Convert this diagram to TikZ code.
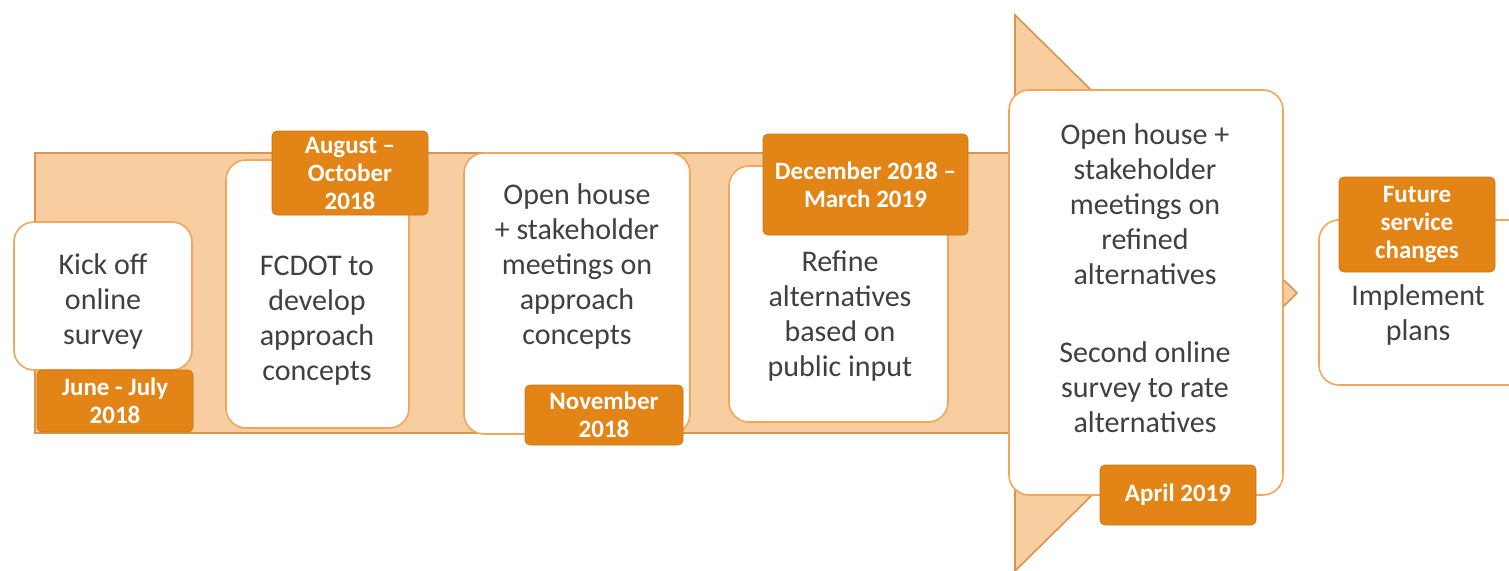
\documentclass[tikz,border=0pt]{standalone}
\usepackage{fontspec}
\setmainfont{Carlito}
\begin{document}
\begin{tikzpicture}[x=0.5pt,y=-0.5pt,
  arrowbody/.style={fill=bodyfill,draw=bodyline,line width=0.8pt,line join=miter},
  wbox/.style={draw=boxline,fill=white,line width=0.8pt,rounded corners=10pt,inner sep=0pt},
  dbox/.style={fill=datefill,draw=datefill!90!black,line width=0.4pt,rounded corners=2.5pt,inner sep=0pt,
     text=white,font=\fontsize{12.5}{14}\selectfont\bfseries,align=center},
  txt/.style={text=txtcol,font=\fontsize{15}{17.5}\selectfont,align=center,inner sep=0pt}]
\definecolor{bodyfill}{RGB}{248,206,160}
\definecolor{bodyline}{RGB}{214,150,80}
\definecolor{boxline}{RGB}{242,166,90}
\definecolor{datefill}{RGB}{227,132,23}
\definecolor{txtcol}{RGB}{64,64,64}
\useasboundingbox (0,0) rectangle (1509,570);
% big arrow
\draw[arrowbody] (35,153) -- (1015,153) -- (1015,15) -- (1297,293) -- (1015,571) -- (1015,433) -- (35,433) -- cycle;
% white boxes
\node[wbox,minimum width=89pt,minimum height=74pt] (b1) at (103,296) {};
\node[wbox,minimum width=91.5pt,minimum height=134pt] (b2) at (317.5,294) {};
\node[wbox,minimum width=113pt,minimum height=140.5pt] (b3) at (577,293.5) {};
\node[wbox,minimum width=109.5pt,minimum height=128pt] (b4) at (838.5,294) {};
\node[wbox,minimum width=137pt,minimum height=202.5pt] (b5) at (1146,292.5) {};
\node[wbox,minimum width=105.5pt,minimum height=82.5pt] (b6) at (1424.5,302.5) {};
% texts
\node[txt] (t1) at (103,301) {Kick off\\online\\survey};
\node[txt] (t2) at (317,321) {FCDOT to\\develop\\approach\\concepts};
\node[txt] (t3) at (577,266) {Open house\\+ stakeholder\\meetings on\\approach\\concepts};
\node[txt] (t4) at (840,316) {Refine\\alternatives\\based on\\public input};
\node[txt] (t5a) at (1145,204) {Open house +\\stakeholder\\meetings on\\refined\\alternatives};
\node[txt] (t5b) at (1145,387) {Second online\\survey to rate\\alternatives};
\node[txt] (t6) at (1418,315) {Implement\\plans};
% date boxes
\node[dbox,minimum width=78pt,minimum height=31pt] (d1) at (115,401) {June - July\\2018};
\node[dbox,minimum width=78pt,minimum height=42pt] (d2) at (350,173) {August --\\October\\2018};
\node[dbox,minimum width=79pt,minimum height=30pt] (d3) at (604,415) {November\\2018};
\node[dbox,minimum width=102.5pt,minimum height=50.5pt] (d4) at (865.5,184.5) {December 2018 --\\March 2019};
\node[dbox,minimum width=78pt,minimum height=30pt] (d5) at (1178,495) {April 2019};
\node[dbox,minimum width=78pt,minimum height=47.5pt] (d6) at (1417,224.5) {Future\\service\\changes};
\end{tikzpicture}
\end{document}
